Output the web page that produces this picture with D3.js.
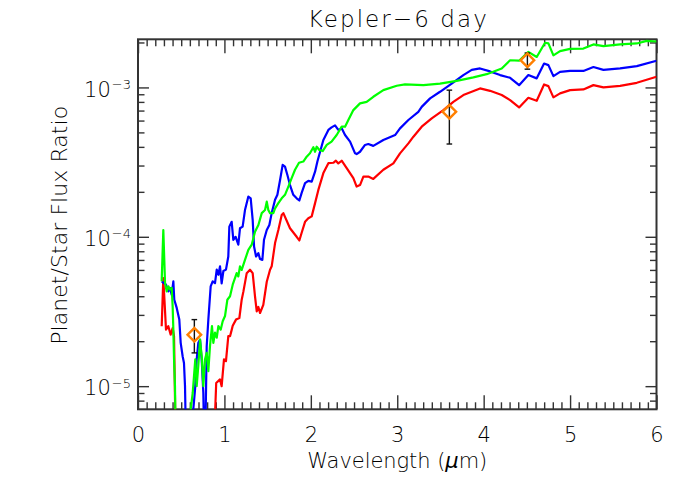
<!DOCTYPE html>
<html>
<head>
<meta charset="utf-8">
<script src="https://cdn.jsdelivr.net/npm/d3@7"></script>
<style>
  html, body { margin: 0; padding: 0; background: #fff; }
  svg text { font-family: "DejaVu Sans", "Liberation Sans", sans-serif; font-weight: 200; fill: #000; }
</style>
</head>
<body>
<svg id="chart" width="692" height="494"></svg>
<script>
// model spectra (wavelength in micron, planet/star flux ratio)
var redWave = [0.274, 0.293, 0.324, 0.351, 0.378, 0.401, 0.417, 0.44, 0.87, 0.905, 0.949, 0.968, 0.995, 1.018, 1.045, 1.065, 1.085, 1.096, 1.134, 1.173, 1.2, 1.22, 1.258, 1.296, 1.327, 1.354, 1.374, 1.393, 1.412, 1.45, 1.49, 1.528, 1.547, 1.586, 1.624, 1.663, 1.682, 1.759, 1.836, 1.867, 1.893, 1.933, 1.971, 2.01, 2.049, 2.087, 2.145, 2.203, 2.26, 2.29, 2.318, 2.357, 2.415, 2.492, 2.53, 2.569, 2.608, 2.665, 2.723, 2.839, 2.955, 3.032, 3.129, 3.187, 3.283, 3.399, 3.534, 3.649, 3.765, 3.958, 4.074, 4.209, 4.306, 4.41, 4.517, 4.614, 4.699, 4.749, 4.807, 4.884, 5.0, 5.154, 5.27, 5.386, 5.579, 5.772, 6.0];
var redFlux = [2.52e-5, 5.3e-5, 2.39e-5, 2.52e-5, 2.21e-5, 2.45e-5, 2.16e-5, 3e-6, 3e-6, 1.05e-5, 1.11e-5, 1.0e-5, 1.51e-5, 1.47e-5, 2.16e-5, 2.16e-5, 2.39e-5, 2.54e-5, 2.79e-5, 2.86e-5, 3.79e-5, 4.31e-5, 5.71e-5, 6.02e-5, 5.71e-5, 3.99e-5, 3.17e-5, 3.39e-5, 3.09e-5, 3.5e-5, 5.0e-5, 6.02e-5, 6.34e-5, 9.08e-5, 1.11e-4, 1.40e-4, 1.44e-4, 1.14e-4, 1.0e-4, 9.45e-5, 1.06e-4, 1.26e-4, 1.33e-4, 1.37e-4, 1.68e-4, 2.06e-4, 2.67e-4, 3.11e-4, 3.13e-4, 3.23e-4, 3.1e-4, 3.23e-4, 2.88e-4, 2.47e-4, 2.17e-4, 2.22e-4, 2.53e-4, 2.53e-4, 2.44e-4, 2.81e-4, 3.10e-4, 3.62e-4, 4.22e-4, 4.68e-4, 5.46e-4, 6.21e-4, 7.05e-4, 8.01e-4, 8.89e-4, 9.85e-4, 9.49e-4, 8.89e-4, 8.22e-4, 7.35e-4, 8.53e-4, 8.14e-4, 1.047e-3, 1.02e-3, 8.58e-4, 9.12e-4, 9.59e-4, 9.70e-4, 1.036e-3, 1.0e-3, 1.025e-3, 1.074e-3, 1.178e-3];

var blueWave = [0.274, 0.324, 0.351, 0.37, 0.39, 0.409, 0.42, 0.448, 0.478, 0.494, 0.517, 0.532, 0.544, 0.56, 0.62, 0.64, 0.66, 0.679, 0.698, 0.718, 0.737, 0.756, 0.77, 0.78, 0.795, 0.814, 0.841, 0.864, 0.891, 0.911, 0.93, 0.949, 0.968, 0.988, 1.018, 1.045, 1.057, 1.084, 1.103, 1.13, 1.161, 1.18, 1.211, 1.238, 1.277, 1.304, 1.327, 1.343, 1.366, 1.393, 1.412, 1.439, 1.458, 1.49, 1.52, 1.547, 1.586, 1.613, 1.644, 1.674, 1.701, 1.728, 1.759, 1.797, 1.836, 1.867, 1.893, 1.933, 1.971, 2.01, 2.049, 2.076, 2.107, 2.145, 2.203, 2.24, 2.28, 2.318, 2.357, 2.396, 2.454, 2.512, 2.53, 2.569, 2.627, 2.665, 2.723, 2.839, 2.975, 3.032, 3.129, 3.244, 3.283, 3.38, 3.495, 3.63, 3.765, 3.862, 3.958, 4.074, 4.19, 4.306, 4.41, 4.517, 4.614, 4.699, 4.749, 4.807, 4.884, 5.0, 5.154, 5.27, 5.386, 5.579, 5.772, 6.0];
var blueFlux = [5.03e-5, 4.78e-5, 4.31e-5, 4.55e-5, 4.1e-5, 5.03e-5, 3.79e-5, 3.34e-5, 2.79e-5, 1.95e-5, 1.58e-5, 1.43e-5, 1.0e-5, 3e-6, 3e-6, 7e-6, 9.5e-6, 1.51e-5, 1.95e-5, 2.05e-5, 1.51e-5, 9.0e-6, 3e-6, 5e-6, 1.85e-5, 2.79e-5, 4.66e-5, 5.03e-5, 4.9e-5, 6.03e-5, 5.57e-5, 6.34e-5, 4.87e-5, 5.9e-5, 6.03e-5, 7.38e-5, 1.17e-4, 1.26e-4, 9.55e-5, 1.0e-4, 8.85e-5, 1.14e-4, 1.17e-4, 1.51e-4, 1.86e-4, 1.81e-4, 1.30e-4, 8.6e-5, 7.38e-5, 7.76e-5, 7.1e-5, 7.0e-5, 9.55e-5, 1.11e-4, 1.2e-4, 1.44e-4, 1.77e-4, 1.91e-4, 2.40e-4, 3.03e-4, 2.95e-4, 2.60e-4, 2.22e-4, 1.91e-4, 1.81e-4, 1.75e-4, 1.96e-4, 2.29e-4, 2.37e-4, 2.34e-4, 2.73e-4, 3.19e-4, 3.71e-4, 4.45e-4, 5.19e-4, 5.4e-4, 5.57e-4, 5.19e-4, 5.32e-4, 4.8e-4, 4.34e-4, 3.62e-4, 3.58e-4, 3.71e-4, 4.12e-4, 4.18e-4, 4.06e-4, 4.45e-4, 4.8e-4, 5.32e-4, 6.05e-4, 6.87e-4, 7.41e-4, 8.45e-4, 9.35e-4, 1.06e-3, 1.21e-3, 1.31e-3, 1.34e-3, 1.28e-3, 1.21e-3, 1.16e-3, 1.036e-3, 1.21e-3, 1.15e-3, 1.445e-3, 1.41e-3, 1.19e-3, 1.27e-3, 1.29e-3, 1.29e-3, 1.37e-3, 1.31e-3, 1.34e-3, 1.39e-3, 1.51e-3];

var greenWave = [0.274, 0.293, 0.313, 0.332, 0.351, 0.37, 0.39, 0.401, 0.409, 0.417, 0.428, 0.44, 0.6, 0.61, 0.633, 0.648, 0.663, 0.679, 0.698, 0.718, 0.737, 0.756, 0.775, 0.795, 0.814, 0.833, 0.856, 0.872, 0.891, 0.911, 0.93, 0.957, 0.98, 1.007, 1.034, 1.065, 1.096, 1.123, 1.142, 1.161, 1.18, 1.2, 1.238, 1.277, 1.316, 1.354, 1.393, 1.432, 1.47, 1.49, 1.508, 1.528, 1.566, 1.586, 1.624, 1.663, 1.701, 1.74, 1.778, 1.817, 1.863, 1.913, 1.952, 1.99, 2.029, 2.049, 2.068, 2.099, 2.137, 2.184, 2.24, 2.299, 2.357, 2.396, 2.434, 2.492, 2.569, 2.646, 2.723, 2.839, 2.994, 3.09, 3.302, 3.495, 3.688, 3.881, 4.035, 4.209, 4.306, 4.41, 4.517, 4.614, 4.71, 4.749, 4.807, 4.884, 5.0, 5.154, 5.27, 5.386, 5.579, 5.772, 5.887, 6.0];
var greenFlux = [5.03e-5, 1.11e-4, 4.9e-5, 4.31e-5, 4.66e-5, 4.43e-5, 4.55e-5, 3.42e-5, 2.39e-5, 1.51e-5, 1.0e-5, 3e-6, 3e-6, 7e-6, 9.0e-6, 1.17e-5, 1.51e-5, 1.0e-5, 1.37e-5, 2.05e-5, 1.58e-5, 1.0e-5, 1.51e-5, 1.67e-5, 1.26e-5, 1.85e-5, 2.52e-5, 1.95e-5, 2.28e-5, 2.11e-5, 2.52e-5, 2.39e-5, 2.72e-5, 2.95e-5, 3.79e-5, 4.0e-5, 4.78e-5, 5.3e-5, 5.71e-5, 5.43e-5, 6.34e-5, 6.0e-5, 7.0e-5, 8.18e-5, 8.85e-5, 1.08e-4, 1.2e-4, 1.44e-4, 1.51e-4, 1.72e-4, 1.51e-4, 1.44e-4, 1.44e-4, 1.55e-4, 1.68e-4, 1.81e-4, 1.91e-4, 2.17e-4, 2.47e-4, 2.81e-4, 3.13e-4, 3.19e-4, 3.44e-4, 3.62e-4, 3.98e-4, 3.71e-4, 4.01e-4, 3.81e-4, 3.75e-4, 4.12e-4, 4.34e-4, 4.8e-4, 5.46e-4, 5.46e-4, 6.05e-4, 7.05e-4, 7.82e-4, 8.01e-4, 8.66e-4, 9.59e-4, 1.026e-3, 1.047e-3, 1.036e-3, 1.06e-3, 1.107e-3, 1.167e-3, 1.227e-3, 1.34e-3, 1.52e-3, 1.51e-3, 1.73e-3, 1.6e-3, 1.99e-3, 1.97e-3, 1.64e-3, 1.75e-3, 1.81e-3, 1.82e-3, 1.94e-3, 1.89e-3, 1.94e-3, 1.97e-3, 2.05e-3, 2.03e-3];

// observed eclipse depths with error bars
var obsWave = [0.652, 3.603, 4.506];
var obsFlux = [2.21e-5, 6.87e-4, 1.52e-3];
var obsHigh = [2.79e-5, 9.59e-4, 1.70e-3];
var obsLow = [1.67e-5, 4.18e-4, 1.325e-3];

var xMajor = [0, 1, 2, 3, 4, 5, 6];
var yMajor = [1e-5, 1e-4, 1e-3];
var yMajorExp = ['\u22125', '\u22124', '\u22123'];

var margin = { top: 39.3, right: 35.5, bottom: 84.7, left: 138 },
    W = 692, H = 494,
    pw = W - margin.left - margin.right,
    ph = H - margin.top - margin.bottom;

var svg = d3.select('#chart');

var x = d3.scaleLinear().domain([0, 6]).range([margin.left, margin.left + pw]);
var y = d3.scaleLog().domain([7e-6, 2.1e-3]).range([margin.top + ph, margin.top]);

svg.append('defs').append('clipPath').attr('id', 'plotclip')
  .append('rect')
    .attr('x', margin.left).attr('y', margin.top)
    .attr('width', pw).attr('height', ph);

var xMinor = d3.range(0, 61).map(function(d) { return d / 10; })
  .filter(function(d) { return d % 1 !== 0; });
var yMinor = y.ticks().filter(function(d) {
  return yMajor.indexOf(d) < 0 && d > 7.01e-6;
});

function styleAxis(g) {
  g.select('.domain').remove();
  g.selectAll('.tick line').attr('stroke', '#333').attr('stroke-width', 1.4);
}

// bottom
svg.append('g')
  .attr('transform', 'translate(0,' + (margin.top + ph) + ')')
  .call(d3.axisBottom(x).tickValues(xMajor).tickSize(-14).tickPadding(18).tickFormat(d3.format('d')))
  .call(styleAxis)
  .call(function(g) {
    g.selectAll('.tick text').attr('font-size', 21).attr('font-family', null).attr('fill', '#000');
  });
svg.append('g')
  .attr('transform', 'translate(0,' + (margin.top + ph) + ')')
  .call(d3.axisBottom(x).tickValues(xMinor).tickSize(-7).tickFormat(''))
  .call(styleAxis);
// top
svg.append('g')
  .attr('transform', 'translate(0,' + margin.top + ')')
  .call(d3.axisTop(x).tickValues(xMajor).tickSize(-14).tickFormat(''))
  .call(styleAxis);
svg.append('g')
  .attr('transform', 'translate(0,' + margin.top + ')')
  .call(d3.axisTop(x).tickValues(xMinor).tickSize(-7).tickFormat(''))
  .call(styleAxis);

// left
var left = svg.append('g')
  .attr('transform', 'translate(' + margin.left + ',0)')
  .call(d3.axisLeft(y).tickValues(yMajor).tickSize(-11).tickPadding(7).tickFormat(''))
  .call(styleAxis);
left.selectAll('.tick').each(function(d, i) {
  var t = d3.select(this).append('text')
    .attr('x', -7).attr('y', 8.7)
    .attr('text-anchor', 'end')
    .attr('font-size', 21);
  t.append('tspan').text('10');
  t.append('tspan').attr('font-size', 13).attr('dy', -7.7).attr('dx', 1).text(yMajorExp[i]);
});
svg.append('g')
  .attr('transform', 'translate(' + margin.left + ',0)')
  .call(d3.axisLeft(y).tickValues(yMinor).tickSize(-6.5).tickFormat(''))
  .call(styleAxis);
// right
svg.append('g')
  .attr('transform', 'translate(' + (margin.left + pw) + ',0)')
  .call(d3.axisRight(y).tickValues(yMajor).tickSize(-11).tickFormat(''))
  .call(styleAxis);
svg.append('g')
  .attr('transform', 'translate(' + (margin.left + pw) + ',0)')
  .call(d3.axisRight(y).tickValues(yMinor).tickSize(-6.5).tickFormat(''))
  .call(styleAxis);

// frame
svg.append('rect')
  .attr('x', margin.left).attr('y', margin.top)
  .attr('width', pw).attr('height', ph)
  .attr('fill', 'none').attr('stroke', '#333').attr('stroke-width', 2);

// spectra
var line = d3.line()
  .x(function(d) { return x(d[0]); })
  .y(function(d) { return y(d[1]); });

var plot = svg.append('g').attr('clip-path', 'url(#plotclip)');
[[redWave, redFlux, '#ff0000'], [blueWave, blueFlux, '#0000ff'], [greenWave, greenFlux, '#00ff00']]
  .forEach(function(s) {
    plot.append('path')
      .datum(d3.zip(s[0], s[1]))
      .attr('d', line)
      .attr('fill', 'none')
      .attr('stroke', s[2])
      .attr('stroke-width', 2.2)
      .attr('stroke-linejoin', 'round');
  });

// error bars + diamonds
var obs = d3.range(obsWave.length).map(function(i) {
  return { w: obsWave[i], f: obsFlux[i], hi: obsHigh[i], lo: obsLow[i] };
});
var eb = svg.append('g').attr('stroke', '#111').attr('stroke-width', 1.4);
eb.selectAll('line.bar').data(obs).enter().append('line')
  .attr('class', 'bar')
  .attr('x1', function(d) { return x(d.w); }).attr('x2', function(d) { return x(d.w); })
  .attr('y1', function(d) { return y(d.lo); }).attr('y2', function(d) { return y(d.hi); });
['lo', 'hi'].forEach(function(k) {
  eb.selectAll('line.cap' + k).data(obs).enter().append('line')
    .attr('x1', function(d) { return x(d.w) - 2.8; }).attr('x2', function(d) { return x(d.w) + 2.8; })
    .attr('y1', function(d) { return y(d[k]); }).attr('y2', function(d) { return y(d[k]); });
});
svg.append('g').selectAll('path').data(obs).enter().append('path')
  .attr('d', d3.symbol(d3.symbolSquare, 92))
  .attr('transform', function(d) { return 'translate(' + x(d.w) + ',' + y(d.f) + ') rotate(45)'; })
  .attr('fill', 'none')
  .attr('stroke', '#ff7f00')
  .attr('stroke-width', 2.4);

// labels
svg.append('text')
  .attr('x', margin.left + pw / 2).attr('y', 27.3)
  .attr('text-anchor', 'middle')
  .attr('font-size', 23)
  .attr('textLength', 179).attr('lengthAdjust', 'spacing')
  .text('Kepler\u22126 day');

var xl = svg.append('text')
  .attr('x', margin.left + pw / 2).attr('y', 468.3)
  .attr('text-anchor', 'middle')
  .attr('font-size', 21)
  .attr('textLength', 180).attr('lengthAdjust', 'spacing');
xl.append('tspan').text('Wavelength (');
xl.append('tspan').attr('font-style', 'italic').text('\u03bc');
xl.append('tspan').text('m)');

svg.append('text')
  .attr('transform', 'translate(66.5,' + (margin.top + ph / 2 + 1) + ') rotate(-90)')
  .attr('text-anchor', 'middle')
  .attr('font-size', 22)
  .attr('textLength', 239).attr('lengthAdjust', 'spacing')
  .text('Planet/Star Flux Ratio');
</script>
</body>
</html>
